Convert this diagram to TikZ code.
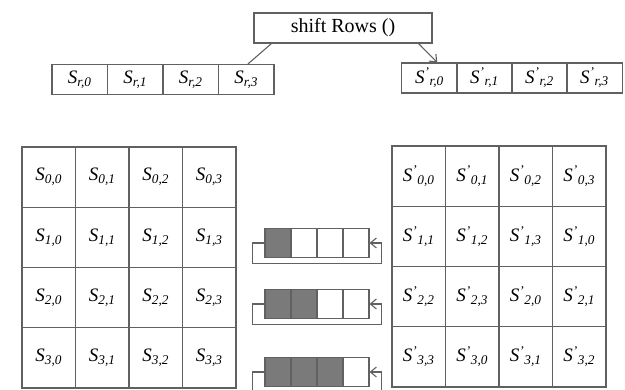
\documentclass[tikz,border=0pt]{standalone}
\usepackage{fontspec}
\setmainfont{Liberation Serif}
\usetikzlibrary{arrows.meta}

\newcommand{\sv}[1]{\textit{S\textsubscript{#1}}}
\newcommand{\svp}[1]{\textit{S\textsuperscript{'}\textsubscript{#1}}}
\colorlet{edgecol}{black!62}
\colorlet{regfill}{black!52}

\tikzset{
	cellbox/.style={draw=edgecol, line width=1.1pt, minimum width=53.5pt, minimum height=60.25pt, inner sep=0pt, font=\fontsize{19}{21}\selectfont},
	rowbox/.style={draw=edgecol, line width=1.1pt, minimum width=55.5pt, minimum height=30pt, inner sep=0pt, font=\fontsize{19}{21}\selectfont},
	regbox/.style={draw=edgecol, line width=1.1pt, minimum width=26pt, minimum height=29pt, inner sep=0pt},
	loopline/.style={draw=edgecol, line width=1.1pt},
	barb/.style={-{Straight Barb[length=6pt,width=10pt]}}
}

\begin{document}
\begin{tikzpicture}[x=1pt,y=-1pt]
		\useasboundingbox (0,0) rectangle (625,390);
		\clip (0,0) rectangle (625,390);
		\node[draw=edgecol, line width=1.1pt, minimum width=178pt, minimum height=30pt, inner sep=0pt,
			font=\fontsize{20}{22}\selectfont] (shift) at (343,28) {shift Rows ()};
		% one row, before and after
		\foreach \c in {0,...,3} {
			\node[rowbox] (rl\c) at (52+55.5*\c+27.75,79.5) {\sv{r,\c}};
			\node[rowbox] (rr\c) at (402+55*\c+27.5,78) {\svp{r,\c}};
		}
		\draw[loopline] ([xshift=18pt]shift.south west) -- ([xshift=30pt]rl3.north west);
		\draw[loopline, barb] ([xshift=-14pt]shift.south east) -- ([xshift=36pt]rr0.north west);
		% state, before and after
		\foreach \r in {0,...,3}
			\foreach \c in {0,...,3} {
				\pgfmathtruncatemacro{\k}{mod(\c+\r,4)}
				\node[cellbox] (a\r\c) at (22+53.5*\c+26.75,147+60.25*\r+30.125) {\sv{\r,\c}};
				\node[cellbox] (b\r\c) at (392+53.5*\c+26.75,146+60.25*\r+30.125) {\svp{\r,\k}};
			}
		% rotating registers
		\foreach \n/\y in {1/243,2/304,3/372} {
			\foreach \i in {0,...,3} {
				\ifnum\i<\n
					\node[regbox, fill=regfill] (r\n\i) at (265+26*\i+13,\y) {};
				\else
					\node[regbox] (r\n\i) at (265+26*\i+13,\y) {};
				\fi
			}
			\draw[loopline, barb] (r\n0.west) -- ++(-12,0) -- ++(0,20.5)
				-| ([xshift=12pt]r\n3.east) -- (r\n3.east);
		}
	\end{tikzpicture}
\end{document}
